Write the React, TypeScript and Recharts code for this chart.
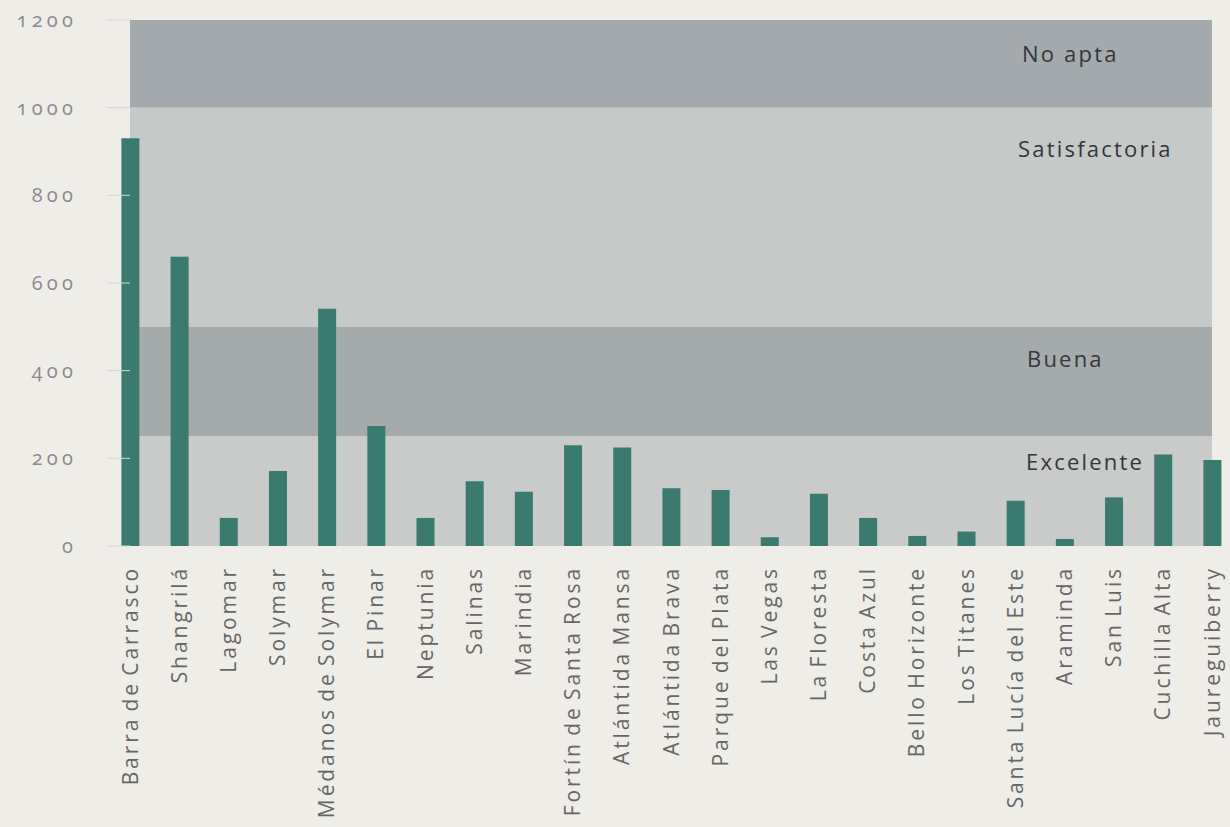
import React from 'react';
import { BarChart, Bar, XAxis, YAxis, ReferenceArea } from 'recharts';

const categories = [
  'Barra de Carrasco', 'Shangrilá', 'Lagomar', 'Solymar', 'Médanos de Solymar', 'El Pinar',
  'Neptunia', 'Salinas', 'Marindia', 'Fortín de Santa Rosa', 'Atlántida Mansa', 'Atlántida Brava',
  'Parque del Plata', 'Las Vegas', 'La Floresta', 'Costa Azul', 'Bello Horizonte', 'Los Titanes',
  'Santa Lucía del Este', 'Araminda', 'San Luis', 'Cuchilla Alta', 'Jaureguiberry',
];
const values = [930, 660, 64, 171, 541, 274, 64, 148, 124, 230, 225, 132, 128, 20, 119, 64, 23, 33, 103, 16, 111, 209, 196];
const yTicks = [0, 200, 400, 600, 800, 1000, 1200];

const bandLabels = ['No apta', 'Satisfactoria', 'Buena', 'Excelente'];
const bandFrom = [1000, 500, 250, 0];
const bandTo = [1200, 1000, 500, 250];

// styles / layout
const bandColors = ['#a3a9ac', '#c5c9c8', '#a5abab', '#c8cbc9'];
const bandLabelDx = [190, 194, 185, 186];
const bandLabelDy = [34, 42, 32, 26];
const BAR_COLOR = '#3b7a6e';
const FONT = '"Open Sans", "Noto Sans", sans-serif';

const data = categories.map((name, i) => ({ idx: i, name, value: values[i] }));
const xTicks = categories.map((_, i) => i);

const XTick = (props: any) => {
  const { x, y, payload } = props;
  return (
    <g transform={`translate(${x},${y})`}>
      <text
        transform="rotate(-90)"
        x={0}
        y={0}
        dy="0.36em"
        textAnchor="end"
        fill="#666666"
        fontSize={21}
        fontFamily={FONT}
        style={{ letterSpacing: '2.9px', wordSpacing: '-3px' }}
      >
        {categories[payload.value]}
      </text>
    </g>
  );
};

const YTick = (props: any) => {
  const { x, y, payload } = props;
  return (
    <text
      x={x}
      y={y}
      dy="0.35em"
      textAnchor="end"
      fill="#8a8a8a"
      fontSize={20}
      fontFamily={FONT}
      style={{ letterSpacing: '4.2px', fontVariantNumeric: 'oldstyle-nums' }}
    >
      {payload.value}
    </text>
  );
};

const EmptyTick = () => <g />;

const makeBandLabel = (i: number) => (props: any) => {
  const vb = props.viewBox || {};
  return (
    <text
      x={vb.x + vb.width - bandLabelDx[i]}
      y={vb.y + bandLabelDy[i]}
      dy="0.35em"
      textAnchor="start"
      fill="#33373a"
      fontSize={22}
      fontFamily={FONT}
      style={{ letterSpacing: '2.2px' }}
    >
      {bandLabels[i]}
    </text>
  );
};

export default function App() {
  return (
    <div style={{ position: 'absolute', left: 0, top: 0, width: 1230, height: 827, background: '#efede8', overflow: 'hidden' }}>
      <BarChart
        width={1230}
        height={827}
        data={data}
        margin={{ top: 20, right: 0, bottom: 0, left: 0 }}
      >
        <XAxis
          dataKey="idx"
          type="number"
          domain={[0, categories.length - 1]}
          ticks={xTicks}
          interval={0}
          height={281}
          tickSize={0}
          tickMargin={20}
          axisLine={false}
          tickLine={false}
          tick={<XTick />}
        />
        <YAxis
          yAxisId="left"
          type="number"
          domain={[0, 1200]}
          ticks={yTicks}
          interval={0}
          width={130}
          tickSize={23}
          tickMargin={30}
          axisLine={false}
          tickLine={{ stroke: '#d6d5d1' }}
          tick={<YTick />}
        />
        <YAxis
          yAxisId="right"
          orientation="right"
          type="number"
          domain={[0, 1200]}
          ticks={yTicks}
          interval={0}
          width={18}
          tickSize={18}
          axisLine={false}
          tickLine={{ stroke: '#d6d5d1' }}
          tick={<EmptyTick />}
        />
        {bandLabels.map((label, i) => (
          <ReferenceArea
            key={label}
            yAxisId="left"
            y1={bandFrom[i]}
            y2={bandTo[i]}
            fill={bandColors[i]}
            fillOpacity={1}
            stroke="none"
            ifOverflow="visible"
            label={makeBandLabel(i)}
          />
        ))}
        <Bar yAxisId="left" dataKey="value" fill={BAR_COLOR} barSize={18} isAnimationActive={false} />
      </BarChart>
    </div>
  );
}
